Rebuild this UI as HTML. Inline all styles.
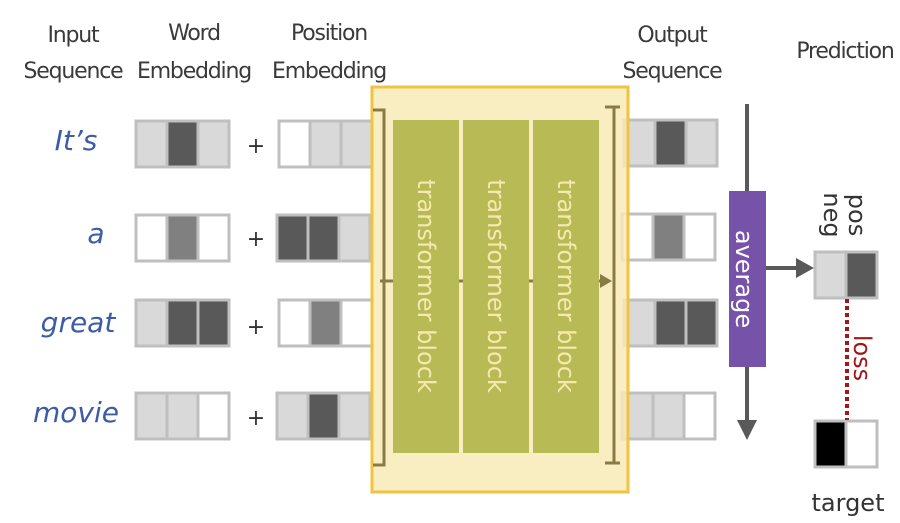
<!DOCTYPE html>
<html><head><meta charset="utf-8"><style>
html,body{margin:0;padding:0;background:#fff;}
svg{display:block;}
text{font-family:"DejaVu Sans","Liberation Sans",sans-serif;}
</style></head><body>
<svg width="900" height="523" viewBox="0 0 900 523" xmlns="http://www.w3.org/2000/svg">
<defs>
<marker id="ah" markerWidth="10" markerHeight="10" refX="5" refY="5" orient="auto" markerUnits="userSpaceOnUse"></marker>
</defs>
<g font-size="22" fill="#3a3a3a" text-anchor="middle" letter-spacing="-1.2">
<text x="73" y="42">Input</text><text x="73" y="78">Sequence</text>
<text x="194" y="40">Word</text><text x="194" y="78">Embedding</text>
<text x="329" y="40">Position</text><text x="329" y="78">Embedding</text>
<text x="672" y="42">Output</text><text x="672" y="78">Sequence</text>
<text x="845" y="58">Prediction</text>
</g>
<g font-size="28" fill="#3d5ca6" font-style="italic" text-anchor="middle">
<text x="76" y="150">It’s</text>
<text x="96" y="243">a</text>
<text x="78" y="332">great</text>
<text x="76" y="422">movie</text>
</g>
<g font-size="22" fill="#333" text-anchor="middle">
<text x="256" y="153">+</text><text x="256" y="246">+</text><text x="256" y="334">+</text><text x="256" y="425">+</text>
</g>
<g stroke="#bfbfbf" stroke-width="3">
<!-- word -->
<rect x="136" y="121" width="31" height="46" fill="#d9d9d9"/><rect x="167" y="121" width="31" height="46" fill="#595959"/><rect x="198" y="121" width="31" height="46" fill="#d9d9d9"/>
<rect x="136" y="215" width="31" height="46" fill="#fff"/><rect x="167" y="215" width="31" height="46" fill="#808080"/><rect x="198" y="215" width="31" height="46" fill="#fff"/>
<rect x="136" y="300" width="31" height="46" fill="#d9d9d9"/><rect x="167" y="300" width="31" height="46" fill="#595959"/><rect x="198" y="300" width="31" height="46" fill="#595959"/>
<rect x="136" y="393" width="31" height="46" fill="#d9d9d9"/><rect x="167" y="393" width="31" height="46" fill="#d9d9d9"/><rect x="198" y="393" width="31" height="46" fill="#fff"/>
<!-- position -->
<rect x="279" y="121" width="31" height="46" fill="#fff"/><rect x="310" y="121" width="31" height="46" fill="#d9d9d9"/><rect x="341" y="121" width="31" height="46" fill="#d9d9d9"/>
<rect x="277" y="215" width="31" height="46" fill="#595959"/><rect x="308" y="215" width="31" height="46" fill="#595959"/><rect x="339" y="215" width="31" height="46" fill="#d9d9d9"/>
<rect x="279" y="300" width="31" height="46" fill="#fff"/><rect x="310" y="300" width="31" height="46" fill="#808080"/><rect x="341" y="300" width="31" height="46" fill="#fff"/>
<rect x="277" y="393" width="31" height="46" fill="#d9d9d9"/><rect x="308" y="393" width="31" height="46" fill="#595959"/><rect x="339" y="393" width="31" height="46" fill="#d9d9d9"/>
<!-- output -->
<rect x="624" y="120" width="31" height="46" fill="#d9d9d9"/><rect x="655" y="120" width="31" height="46" fill="#595959"/><rect x="686" y="120" width="31" height="46" fill="#d9d9d9"/>
<rect x="622" y="214" width="31" height="46" fill="#fff"/><rect x="653" y="214" width="31" height="46" fill="#808080"/><rect x="684" y="214" width="31" height="46" fill="#fff"/>
<rect x="624" y="300" width="31" height="46" fill="#d9d9d9"/><rect x="655" y="300" width="31" height="46" fill="#595959"/><rect x="686" y="300" width="31" height="46" fill="#595959"/>
<rect x="622" y="393" width="31" height="46" fill="#d9d9d9"/><rect x="653" y="393" width="31" height="46" fill="#d9d9d9"/><rect x="684" y="393" width="31" height="46" fill="#fff"/>
</g>
<!-- transformer box -->
<rect x="372" y="87" width="256" height="405" fill="#f8e9b5" fill-opacity="0.82" stroke="#f0c440" stroke-width="3"/>
<g fill="#b8bb55">
<rect x="393" y="120" width="66" height="333"/><rect x="463" y="120" width="66" height="333"/><rect x="533" y="120" width="66" height="333"/>
</g>
<g fill="#f6e9b0" font-size="24" text-anchor="middle">
<text transform="translate(418,286) rotate(90)">transformer block</text>
<text transform="translate(488,286) rotate(90)">transformer block</text>
<text transform="translate(558,286) rotate(90)">transformer block</text>
</g>
<g stroke="#8a7a45" stroke-width="3" fill="none">
<polyline points="373,110 384,110 384,465 373,465"/>
<line x1="380" y1="281" x2="393" y2="281"/>
<line x1="459" y1="281" x2="463" y2="281"/>
<line x1="529" y1="281" x2="533" y2="281"/>
<line x1="599" y1="281" x2="603" y2="281"/>
<line x1="614" y1="107" x2="614" y2="463"/>
<line x1="605" y1="107" x2="620" y2="107"/>
<line x1="605" y1="463" x2="620" y2="463"/>
</g>
<polygon points="600,274 612,281 600,288" fill="#8a7a45"/>
<!-- average column -->
<line x1="747" y1="104" x2="747" y2="422" stroke="#595959" stroke-width="4"/>
<polygon points="737,420 757,420 747,440" fill="#595959"/>
<rect x="729" y="191" width="37" height="176" fill="#7652a8"/>
<text transform="translate(736,279) rotate(90)" fill="#fff" font-size="24" text-anchor="middle">average</text>
<line x1="766" y1="268" x2="800" y2="268" stroke="#595959" stroke-width="4"/>
<polygon points="796,258 814,268 796,278" fill="#595959"/>
<!-- prediction -->
<g stroke="#bfbfbf" stroke-width="3">
<rect x="815" y="252" width="31" height="46" fill="#d9d9d9"/><rect x="846" y="252" width="31" height="46" fill="#595959"/>
<rect x="815" y="421" width="31" height="46" fill="#000"/><rect x="846" y="421" width="31" height="46" fill="#fff"/>
</g>
<g fill="#333" font-size="24" text-anchor="middle">
<text transform="translate(824,215) rotate(90)">neg</text>
<text transform="translate(849,215) rotate(90)">pos</text>
<text x="848" y="511">target</text>
</g>
<line x1="847" y1="299" x2="847" y2="420" stroke="#a01818" stroke-width="4" stroke-dasharray="4,3"/>
<text transform="translate(854,358) rotate(90)" fill="#a01818" font-size="24" text-anchor="middle">loss</text>
</svg>
</body></html>
